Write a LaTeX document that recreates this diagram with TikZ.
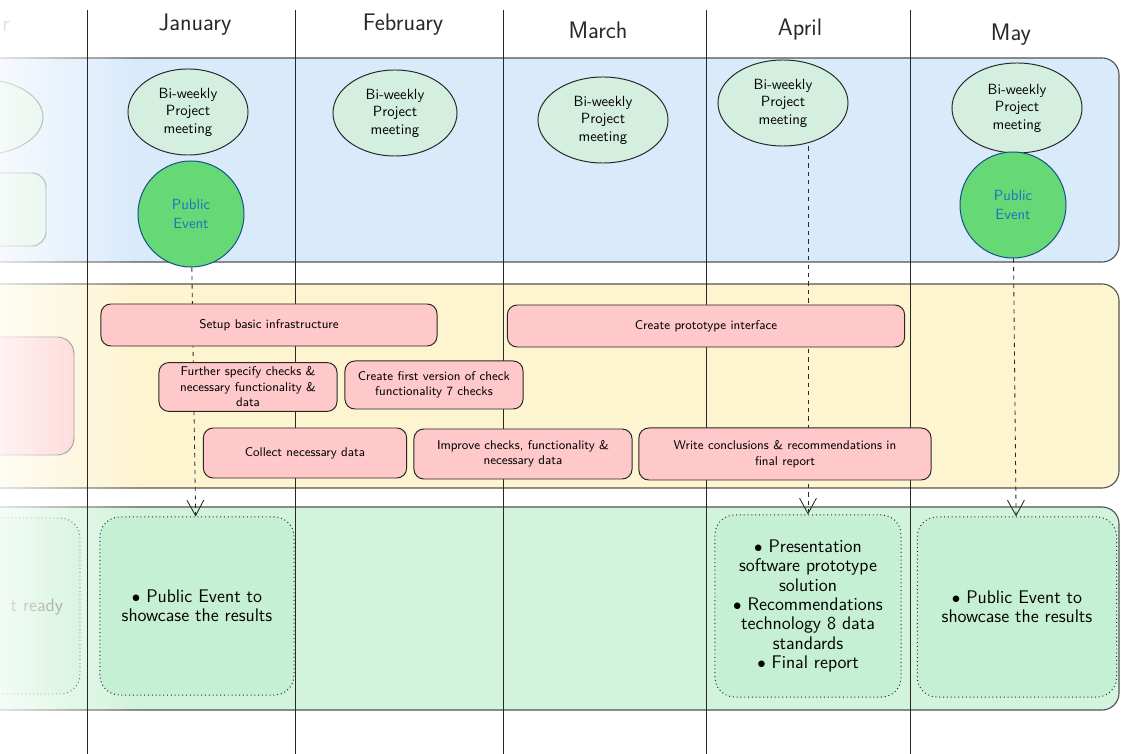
\documentclass[tikz,border=0pt]{standalone}
\usetikzlibrary{shapes.geometric,arrows.meta,fadings}

\definecolor{laneblue}{RGB}{217,234,251}
\definecolor{laneyellow}{RGB}{253,244,208}
\definecolor{lanegreen}{RGB}{210,243,220}
\definecolor{meetfill}{RGB}{212,238,224}
\definecolor{eventfill}{RGB}{102,217,118}
\definecolor{eventtext}{RGB}{25,113,194}
\definecolor{taskfill}{RGB}{255,201,201}
\definecolor{delivfill}{RGB}{198,240,211}
\definecolor{ink}{RGB}{40,40,40}

\begin{document}
\begin{tikzpicture}[x=0.025cm, y=-0.025cm, font=\sffamily,
        lane/.style = {draw=ink!80, line width=0.8pt, rounded corners=12pt},
        monthline/.style = {ink, line width=0.6pt},
        month/.style = {font=\sffamily\fontsize{17}{20}\selectfont, text=ink},
        meeting/.style = {ellipse, draw=ink, line width=0.7pt, fill=meetfill, inner sep=0pt, align=center, font=\sffamily\fontsize{10.5}{12.5}\selectfont},
        event/.style = {circle, draw=eventtext!70!black, line width=0.7pt, fill=eventfill, minimum size=2.65cm, align=center, text=eventtext, font=\sffamily\fontsize{10.5}{13}\selectfont},
        task/.style = {rectangle, rounded corners=7pt, draw=ink, line width=0.7pt, fill=taskfill, align=center, inner sep=1pt, font=\sffamily\small},
        deliv/.style = {rectangle, rounded corners=14pt, draw=ink, dotted, line width=0.7pt, fill=delivfill, align=center, font=\sffamily\fontsize{13}{13.8}\selectfont},
        link/.style = {dashed, ink, line width=0.6pt, -{Straight Barb[length=11pt,width=12pt]}}]
    \useasboundingbox[fill=white] (0,0) rectangle (1121,754);
    % swim lanes
    \draw[lane, fill=laneblue] (-30,58) -- (1119,58) -- (1119,262) -- (-30,262);
    \draw[lane, fill=laneyellow] (-30,284) -- (1119,284) -- (1119,488) -- (-30,488);
    \draw[lane, fill=lanegreen] (-30,507) -- (1119,507) -- (1119,710) -- (-30,710);
    % what is left of the previous months
    \node[month, text=ink!50] (prevmonth) at (6,26) {r};
    \draw[draw=ink!70, line width=0.7pt, fill=meetfill] (-20,117) ellipse [x radius=63, y radius=38];
    \draw[draw=ink!70, line width=0.7pt, fill=meetfill, rounded corners=10pt] (-100,173) rectangle (46,246);
    \draw[draw=ink!70, line width=0.7pt, fill=taskfill, rounded corners=12pt] (-100,337) rectangle (74,455);
    \draw[draw=ink, dotted, line width=0.7pt, fill=delivfill, rounded corners=14pt] (-100,518) rectangle (80,694);
    \node[anchor=east, text=ink!70, font=\sffamily\fontsize{13}{13.8}\selectfont] (prevready) at (68,607) {t ready};
    \fill[white, path fading=east] (-40,-5) rectangle (140,760);
    % months
    \foreach \x in {87,295,503,706,910}
        \draw[monthline] (\x,10) -- (\x,754);
    \node[month] (jan) at (195,25) {January};
    \node[month] (feb) at (403,25) {February};
    \node[month] (mar) at (598,30) {March};
    \node[month] (apr) at (800,30) {April};
    \node[month] (may) at (1011,35) {May};
    % meetings and events
    \node[meeting, minimum width=3.0cm, minimum height=2.15cm] (janmeet) at (188,112) {Bi-weekly\\Project\\meeting};
    \node[meeting, minimum width=3.1cm, minimum height=2.15cm] (febmeet) at (395,113) {Bi-weekly\\Project\\meeting};
    \node[meeting, minimum width=3.25cm, minimum height=2.15cm] (marmeet) at (603,120) {Bi-weekly\\Project\\meeting};
    \node[meeting, minimum width=3.25cm, minimum height=2.15cm] (aprmeet) at (783,103) {Bi-weekly\\Project\\meeting};
    \node[meeting, minimum width=3.25cm, minimum height=2.25cm] (maymeet) at (1017,108) {Bi-weekly\\Project\\meeting};
    \node[event] (janevent) at (191,214) {Public\\Event};
    \node[event] (mayevent) at (1013,205) {Public\\Event};
    % deliverables
    \node[deliv, minimum width=4.85cm, minimum height=4.45cm] (jandeliv) at (197,606) {$\bullet$ Public Event to\\showcase the results};
    \node[deliv, minimum width=4.65cm, minimum height=4.55cm] (aprdeliv) at (808,606) {$\bullet$ Presentation\\software prototype\\solution\\$\bullet$ Recommendations\\technology 8 data\\standards\\$\bullet$ Final report};
    \node[deliv, minimum width=4.98cm, minimum height=4.5cm] (maydeliv) at (1017,607) {$\bullet$ Public Event to\\showcase the results};
    \draw[link] (janevent) -- (jandeliv);
    \draw[link] (aprmeet.south -| aprdeliv.north) -- (aprdeliv.north);
    \draw[link] (mayevent) -- (maydeliv);
    % tasks
    \node[task, minimum width=8.4cm, minimum height=1.05cm] (setup) at (269,325) {Setup basic infrastructure};
    \node[task, minimum width=9.93cm, minimum height=1.05cm] (proto) at (706,326) {Create prototype interface};
    \node[task, minimum width=4.45cm, minimum height=1.22cm] (specify) at (248,387) {Further specify checks \&\\necessary functionality \&\\data};
    \node[task, minimum width=4.45cm, minimum height=1.2cm] (firstver) at (434,385) {Create first version of check\\functionality 7 checks};
    \node[task, minimum width=5.08cm, minimum height=1.25cm] (collect) at (305,453) {Collect necessary data};
    \node[task, minimum width=5.45cm, minimum height=1.25cm] (improve) at (523,454) {Improve checks, functionality \&\\necessary data};
    \node[task, minimum width=7.3cm, minimum height=1.3cm] (conclude) at (785,454) {Write conclusions \& recommendations in\\final report};
\end{tikzpicture}
\end{document}
